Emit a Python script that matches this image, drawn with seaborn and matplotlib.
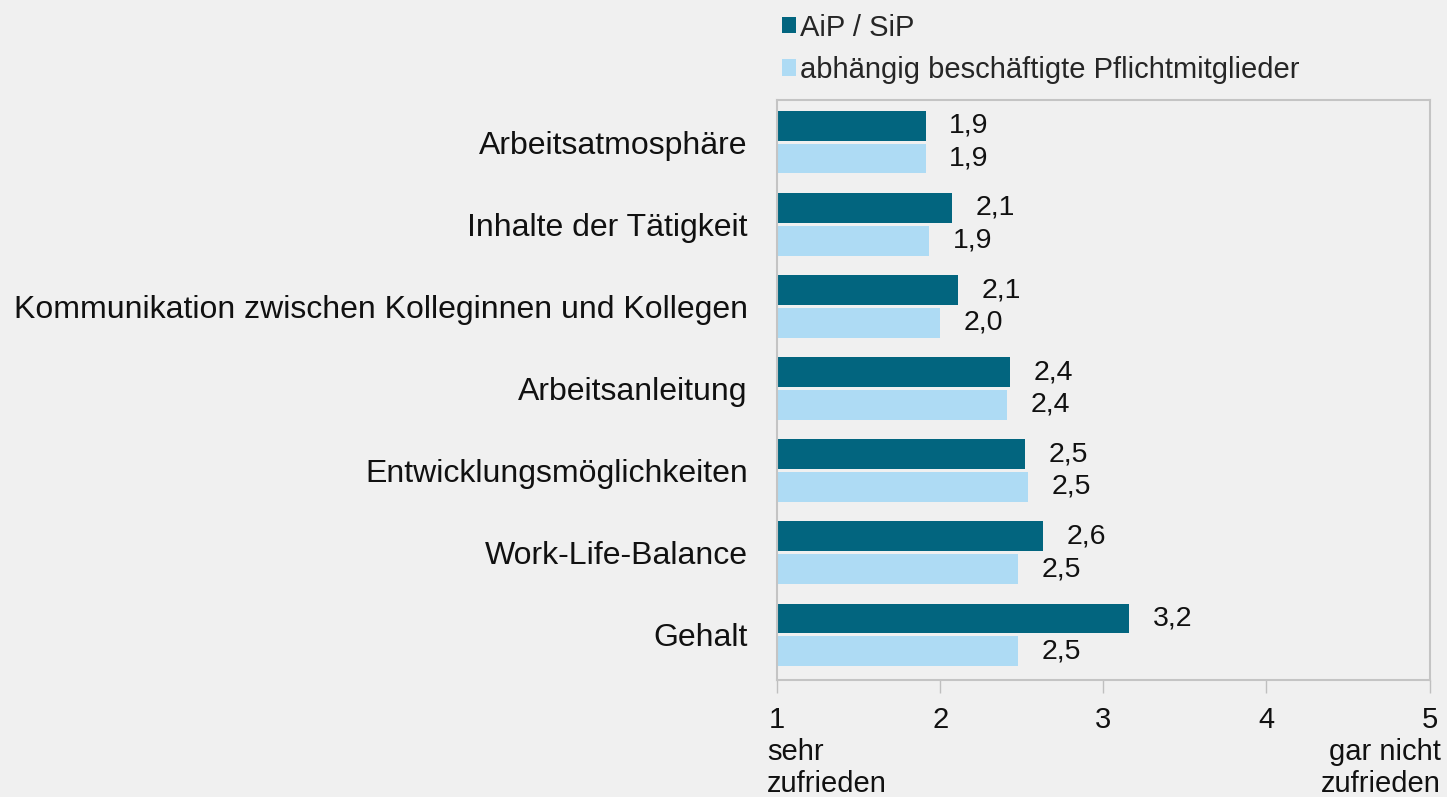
import pandas as pd
import seaborn as sns
import matplotlib.pyplot as plt
from matplotlib.patches import Patch
from matplotlib.transforms import blended_transform_factory

# data (mean ratings, 1 = sehr zufrieden, 5 = gar nicht zufrieden)
categories = ['Arbeitsatmosphäre', 'Inhalte der Tätigkeit',
              'Kommunikation zwischen Kolleginnen und Kollegen',
              'Arbeitsanleitung', 'Entwicklungsmöglichkeiten',
              'Work-Life-Balance', 'Gehalt']
aip_sip = [1.91, 2.07, 2.11, 2.43, 2.52, 2.63, 3.16]
pflicht = [1.91, 1.93, 2.00, 2.41, 2.54, 2.48, 2.48]
series_names = ['AiP / SiP', 'abhängig beschäftigte Pflichtmitglieder']
x_ticks = [1, 2, 3, 4, 5]

colors = ['#02657f', '#aedbf4']
bg = '#f0f0f0'

df = pd.DataFrame({
    'Kategorie': categories * 2,
    'Wert': aip_sip + pflicht,
    'Gruppe': [series_names[0]] * len(categories) + [series_names[1]] * len(categories),
})

sns.set_theme(style='white')
plt.rcParams['font.family'] = ['Liberation Sans', 'DejaVu Sans']

fig = plt.figure(figsize=(14.47, 7.97), dpi=100, facecolor=bg)
ax = fig.add_axes([0.537, 0.147, 0.451, 0.728])
ax.set_facecolor(bg)

sns.barplot(data=df, y='Kategorie', x='Wert', hue='Gruppe', order=categories,
            hue_order=series_names, palette=colors, saturation=1,
            width=0.8, gap=0.1, orient='h', ax=ax, legend=False,
            edgecolor='none')

# value labels with German decimal comma
for cont in ax.containers:
    vals = [b.get_width() for b in cont]
    ax.bar_label(cont, labels=[f'{v:.1f}'.replace('.', ',') for v in vals],
                 padding=17, fontsize=20.5, color='#111111')

ax.set_xlim(1, 5)
ax.set_ylim(len(categories) - 0.45, -0.52)
ax.set_xticks(x_ticks)
ax.set_xticklabels([str(t) for t in x_ticks], fontsize=21)
ax.tick_params(axis='x', bottom=True, length=9, width=1, color='#bfbfbf',
               pad=10, labelcolor='#111111')
ax.tick_params(axis='y', left=False, length=0, pad=21, labelsize=23,
               labelcolor='#111111')
ax.set_xlabel('')
ax.set_ylabel('')
for s in ax.spines.values():
    s.set_visible(True)
    s.set_color('#c4c4c4')
    s.set_linewidth(1.5)

# scale end descriptions under the axis
tr = blended_transform_factory(ax.transData, ax.transAxes)
ax.text(0.94, -0.1, 'sehr\nzufrieden', transform=tr, ha='left', va='top',
        fontsize=21, color='#111111', linespacing=1.2)
ax.text(5.07, -0.1, 'gar nicht\nzufrieden', transform=tr, ha='right', va='top',
        fontsize=21, color='#111111', linespacing=1.2)

handles = [Patch(facecolor=c, edgecolor='none') for c in colors]
fig.legend(handles, series_names, loc='upper left',
           bbox_to_anchor=(0.528, 1.005), frameon=False, fontsize=21,
           handlelength=0.5, handleheight=0.5, handletextpad=0.15,
           labelspacing=0.5, borderaxespad=0.2)

fig.savefig('out.png', dpi=100, facecolor=bg)
